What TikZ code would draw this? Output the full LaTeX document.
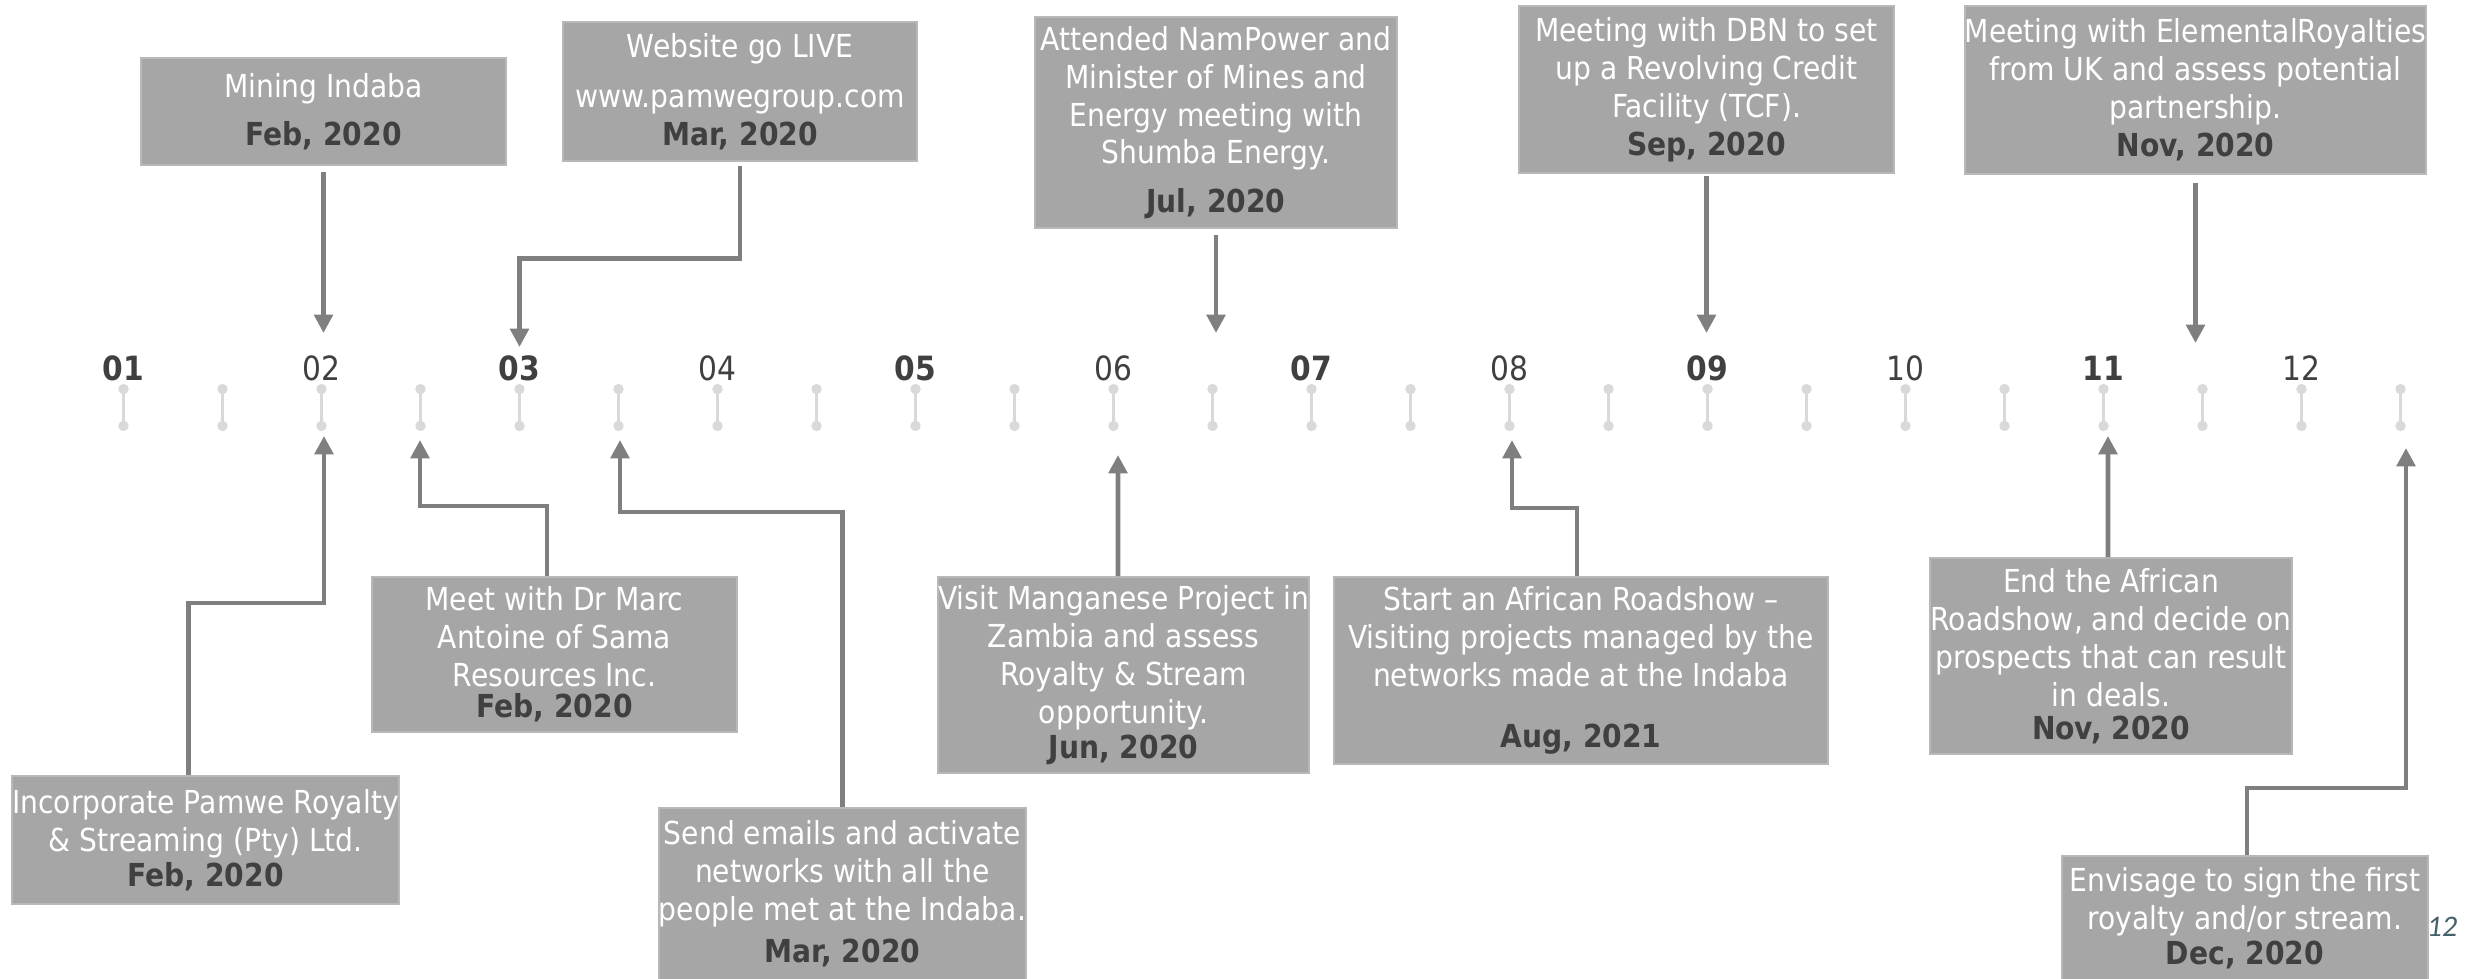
\documentclass[tikz,border=0pt]{standalone}
\usepackage{fontspec}
\setmainfont{DejaVu Sans}[FakeStretch=0.89]
\newfontfamily\pagefont{Carlito}
\usetikzlibrary{arrows.meta}

\definecolor{boxgray}{HTML}{A6A6A6}
\definecolor{dategray}{HTML}{404040}
\definecolor{arrgray}{HTML}{7F7F7F}
\definecolor{tickgray}{HTML}{D9D9D9}
\definecolor{pagegray}{HTML}{44606A}
\newcommand{\evdate}[1]{{\bfseries\color{dategray}#1}}

\begin{document}
\begin{tikzpicture}[x=0.01cm,y=-0.01cm,
  box/.style={fill=boxgray,draw=boxgray!80!white,line width=0.6pt,text=white,align=center,anchor=north,inner sep=0pt,font=\fontsize{9}{10.8}\selectfont},
  arr/.style={draw=arrgray,line width=1.4pt,-{Triangle[length=5.2pt,width=5.2pt]}},
  tickmark/.style={draw=tickgray,line width=0.95pt,{Circle[length=2.9pt]}-{Circle[length=2.9pt]}},
  mon/.style={text=dategray,font=\fontsize{9.5}{11}\selectfont}]
 \useasboundingbox (0,0) rectangle (2484,979);

 % timeline
 \foreach \i in {0,...,23}
   \draw[tickmark] (123.5+99*\i,384) -- (123.5+99*\i,431);
 \foreach \n [count=\k from 0] in {01,03,05,07,09,11}
   \node[mon,font=\fontsize{9.5}{11}\selectfont\bfseries] (mon\n) at (123.5+396*\k,368) {\n};
 \foreach \n [count=\k from 0] in {02,04,06,08,10,12}
   \node[mon] (mon\n) at (321.5+396*\k,368) {\n};

 % arrow tips
 \coordinate (tipA) at (323.5,333);
 \coordinate (tipB) at (519.5,347);
 \coordinate (tipC) at (1216,333);
 \coordinate (tipD) at (1706.5,333);
 \coordinate (tipE) at (2195.5,343);
 \coordinate (upA) at (324,436);
 \coordinate (upB) at (420,440);
 \coordinate (upC) at (620,440);
 \coordinate (upD) at (1118,455);
 \coordinate (upE) at (1512,440);
 \coordinate (upF) at (2108,436);
 \coordinate (upG) at (2406,448);

 % events above
 \node[box,minimum width=3.65cm,minimum height=1.07cm] (mining) at (323.5,57)
   {Mining Indaba\\[2.8pt]\evdate{Feb, 2020}};
 \node[box,minimum width=3.53cm,minimum height=1.39cm] (web) at (740,21)
   {Website go LIVE\\[3.4pt]www.pamwegroup.com\\\evdate{Mar, 2020}};
 \node[box,minimum width=3.61cm,minimum height=2.11cm] (nam) at (1216,16)
   {Attended NamPower and\\Minister of Mines and\\Energy meeting with\\Shumba Energy.\\[3.1pt]\evdate{Jul, 2020}};
 \node[box,minimum width=3.75cm,minimum height=1.67cm] (dbn) at (1706.5,5)
   {Meeting with DBN to set\\up a Revolving Credit\\Facility (TCF).\\\evdate{Sep, 2020}};
 \node[box,minimum width=4.57cm,minimum height=1.68cm] (elem) at (2195.5,5)
   {Meeting with ElementalRoyalties\\from UK and assess potential\\partnership.\\\evdate{Nov, 2020}};

 % events below
 \node[box,minimum width=3.81cm,minimum height=1.28cm] (inc) at (205.5,775)
   {Incorporate Pamwe Royalty\\\& Streaming (Pty) Ltd.\\[-1pt]\evdate{Feb, 2020}};
 \node[box,minimum width=3.65cm,minimum height=1.55cm] (marc) at (554.5,576)
   {Meet with Dr Marc\\Antoine of Sama\\Resources Inc.\\[-2pt]\evdate{Feb, 2020}};
 \node[box,minimum width=3.67cm,minimum height=1.72cm] (mail) at (842.5,807)
   {Send emails and activate\\networks with all the\\people met at the Indaba.\\[1.1pt]\evdate{Mar, 2020}};
 \node[box,minimum width=3.63cm,minimum height=1.96cm] (mang) at (1123.5,576)
   {Visit Manganese Project in\\Zambia and assess\\Royalty \& Stream\\opportunity.\\[-0.6pt]\evdate{Jun, 2020}};
 \node[box,minimum width=4.94cm,minimum height=1.87cm] (road) at (1581,576)
   {Start an African Roadshow --\\Visiting projects managed by the\\networks made at the Indaba\\[6.5pt]\evdate{Aug, 2021}};
 \node[box,minimum width=3.62cm,minimum height=1.96cm] (endroad) at (2111,557)
   {End the African\\Roadshow, and decide on\\prospects that can result\\in deals.\\[-1.4pt]\evdate{Nov, 2020}};
 \node[box,minimum width=3.66cm,minimum height=1.24cm] (sign) at (2245,855)
   {Envisage to sign the first\\royalty and/or stream.\\[-1pt]\evdate{Dec, 2020}};

 % connectors
 \draw[arr,shorten <=1.7pt] (mining.south) -- (tipA);
 \draw[arr,shorten <=1.1pt] (web.south) -- ++(0,96) -| (tipB);
 \draw[arr,shorten <=1.7pt] (nam.south) -- (tipC);
 \draw[arr,shorten <=0.5pt] (dbn.south) -- (tipD);
 \draw[arr,shorten <=2.2pt] (elem.south) -- (tipE);
 \draw[arr] ([xshift=-1.7mm]inc.north) -- ++(0,-172) -| (upA);
 \draw[arr] ([xshift=-0.75mm]marc.north) -- ++(0,-70) -| (upB);
 \draw[arr] (mail.north) -- ++(0,-295) -| (upC);
 \draw[arr] ([xshift=-0.55mm]mang.north) -- (upD);
 \draw[arr] ([xshift=-0.4mm]road.north) -- ++(0,-68) -| (upE);
 \draw[arr] ([xshift=-0.3mm]endroad.north) -- (upF);
 \draw[arr] ([xshift=0.2mm]sign.north) -- ++(0,-67) -| (upG);

 \node[text=pagegray,font=\pagefont\itshape\fontsize{8.5}{9}\selectfont] (pgno) at (2442,927) {12};
\end{tikzpicture}
\end{document}
